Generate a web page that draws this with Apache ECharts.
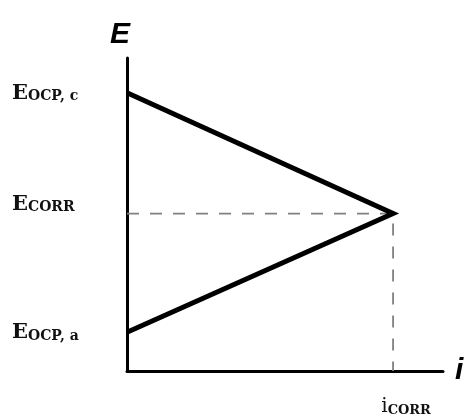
<!DOCTYPE html>
<html>
<head>
<meta charset="utf-8">
<script src="https://cdn.jsdelivr.net/npm/echarts@6/dist/echarts.min.js"></script>
<style>html,body{margin:0;padding:0;background:#fff;}#c{width:469px;height:417px;}</style>
</head>
<body>
<div id="c"></div>
<script>
// Polarization diagram (Evans diagram): potential E vs current i
const eLabelMain = ['E', 'E', 'E'];
const eLabelSub = ['OCP, c', 'CORR', 'OCP, a'];
const eValues = [88.9, 50.3, 12.4];          // E_OCP,c , E_CORR , E_OCP,a
const iValues = [0, 84.2, 0];                // current at each vertex
const iCorr = [84.2];
const iLabelMain = ['i'];
const iLabelSub = ['CORR'];

const curve = iValues.map((x, k) => [x, eValues[k]]);
const guide = [[0, eValues[1]], [iValues[1], eValues[1]], [iValues[1], 0]];

const chart = echarts.init(document.getElementById('c'), null, {renderer: 'canvas'});
const serif = 'DejaVu Serif';
const mainStyle = {fontFamily: serif, fontSize: 21, color: '#111', lineHeight: 26, verticalAlign: 'bottom'};
const subStyle = {fontFamily: serif, fontSize: 14, fontWeight: 'bold', color: '#111', lineHeight: 26, verticalAlign: 'bottom'};
chart.setOption({
  animation: false,
  backgroundColor: '#fff',
  grid: {left: 127, right: 26, top: 58, bottom: 45},
  xAxis: {
    type: 'value', min: 0, max: 100,
    name: 'i', nameLocation: 'end', nameGap: 12,
    nameTextStyle: {fontFamily: 'Liberation Sans', fontStyle: 'italic', fontWeight: 'bold', fontSize: 30, color: '#000', verticalAlign: 'middle', padding: [14, 0, 0, 0]},
    axisLine: {lineStyle: {color: '#000', width: 3}},
    axisTick: {show: false},
    splitLine: {show: false},
    axisLabel: {
      customValues: iCorr, margin: 20, align: 'center', padding: [0, 0, 0, 26],
      formatter: (v) => { const k = iCorr.indexOf(v); return '{m|' + iLabelMain[k < 0 ? 0 : k] + '}{s|' + iLabelSub[k < 0 ? 0 : k] + '}'; },
      rich: {
        m: Object.assign({}, mainStyle, {fontSize: 20}),
        s: Object.assign({}, subStyle, {fontSize: 13})
      }
    }
  },
  yAxis: {
    type: 'value', min: 0, max: 100,
    name: 'E', nameLocation: 'end', nameGap: 8,
    nameTextStyle: {fontFamily: 'Liberation Sans', fontStyle: 'italic', fontWeight: 'bold', fontSize: 30, color: '#000', align: 'center', padding: [0, 14, 0, 0]},
    axisLine: {lineStyle: {color: '#000', width: 3}},
    axisTick: {show: false},
    splitLine: {show: false},
    axisLabel: {
      customValues: eValues, margin: 115, align: 'left', padding: [0, 0, 4, 0],
      formatter: (v) => {
        let k = 0, best = 1e9;
        eValues.forEach((e, j) => { if (Math.abs(e - v) < best) { best = Math.abs(e - v); k = j; } });
        const t = '{m|' + eLabelMain[k] + '}{s|' + eLabelSub[k] + '}';
        return k === 1 ? t + '\n{g| }' : t;
      },
      rich: {
        m: Object.assign({}, mainStyle, {fontWeight: 'bold'}),
        s: subStyle,
        g: {fontSize: 10, lineHeight: 20}
      }
    }
  },
  series: [
    {
      type: 'line', data: guide, symbol: 'none', silent: true, z: 1,
      lineStyle: {color: '#808080', width: 1.8, type: [12, 11]}
    },
    {
      type: 'line', data: curve, symbol: 'none', silent: true, z: 3,
      lineStyle: {color: '#000', width: 5, join: 'miter'}
    }
  ]
});
</script>
</body>
</html>
